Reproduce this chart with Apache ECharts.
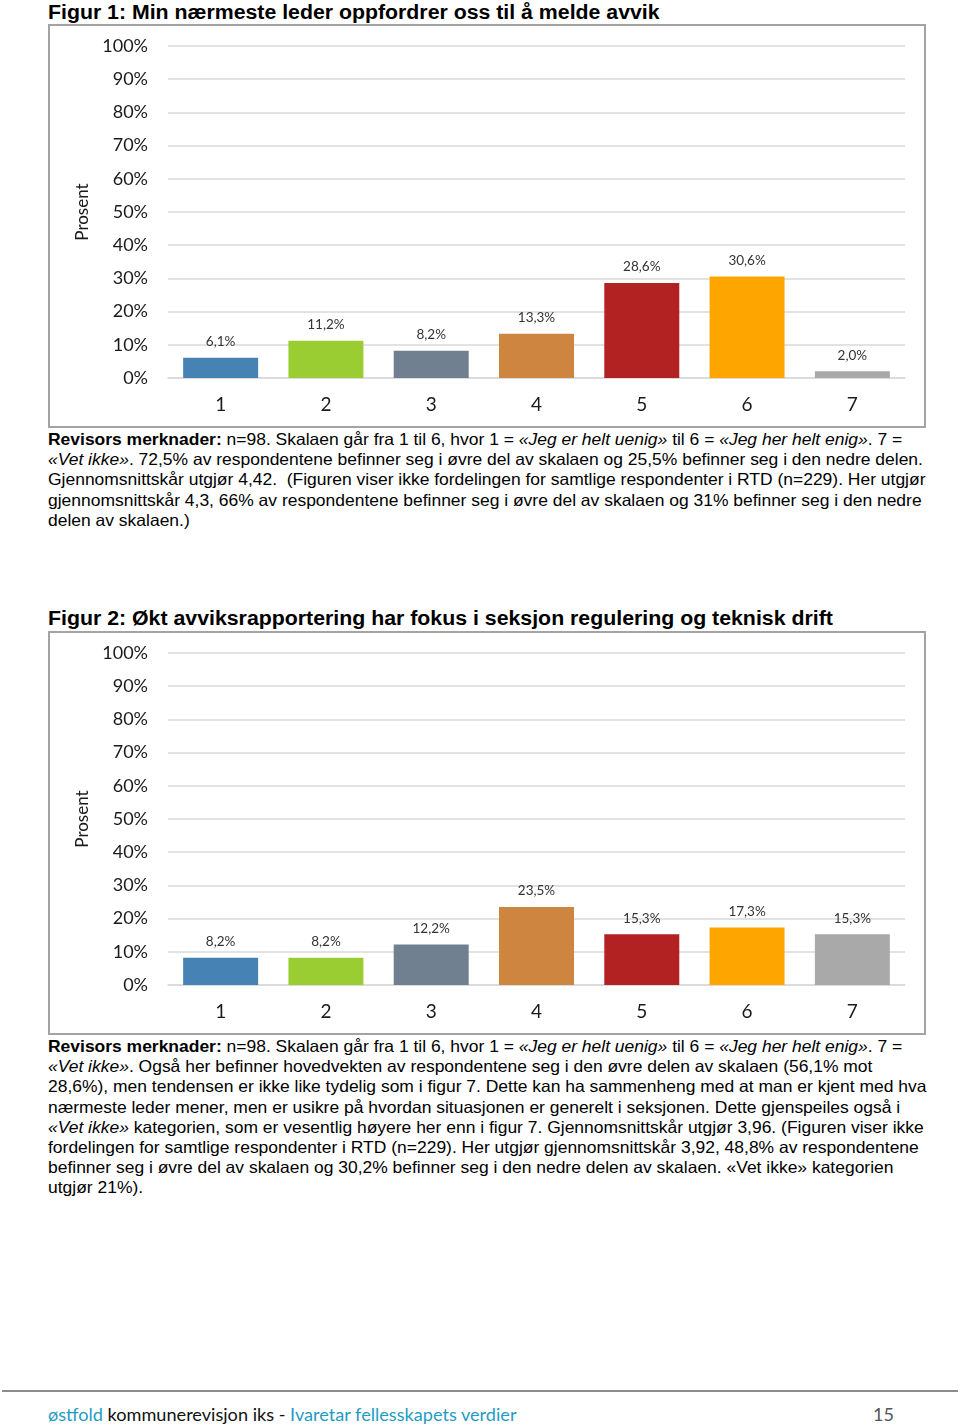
<!DOCTYPE html>
<html><head><meta charset="utf-8">
<script src="https://cdn.jsdelivr.net/npm/echarts@6/dist/echarts.min.js"></script>
<style>
html,body{margin:0;padding:0;background:#fff;}
body{width:960px;height:1426px;position:relative;overflow:hidden;font-family:"Liberation Sans",Arial,sans-serif;color:#000;}
.title{position:absolute;left:48px;font-weight:bold;font-size:20px;line-height:22px;white-space:nowrap;transform-origin:0 50%;}
.box{position:absolute;left:48px;width:878px;height:404px;box-sizing:border-box;border:2px solid #a3a3a3;}
.chart{width:874px;height:400px;}
.para{position:absolute;left:48px;font-size:16.5px;line-height:20.2px;white-space:nowrap;transform-origin:0 0;}
.para div{white-space:nowrap;}
.footline{position:absolute;left:2px;top:1390px;width:956px;height:2px;background:#8c8c8c;}
.foot{position:absolute;left:48px;top:1403px;font-family:Lato,"Open Sans",sans-serif;font-size:18px;line-height:22px;white-space:nowrap;color:#111;transform-origin:0 50%;}
.teal{color:#1f9cc4;}
.pnum{position:absolute;left:873px;top:1403px;font-family:Lato,"Open Sans",sans-serif;font-size:18px;line-height:22px;color:#555;}
</style></head>
<body>
<div class="title" id="t1" style="top:1px">Figur 1: Min nærmeste leder oppfordrer oss til å melde avvik</div>
<div class="box" style="top:24px"><div class="chart" id="c1"></div></div>
<div class="para" id="p1" style="top:429px">
<div id="p1l1"><b>Revisors merknader:</b> n=98. Skalaen går fra 1 til 6, hvor 1 = <i>«Jeg er helt uenig»</i> til 6 = <i>«Jeg her helt enig»</i>. 7 =</div>
<div><i>«Vet ikke»</i>. 72,5% av respondentene befinner seg i øvre del av skalaen og 25,5% befinner seg i den nedre delen.</div>
<div>Gjennomsnittskår utgjør 4,42.&nbsp; (Figuren viser ikke fordelingen for samtlige respondenter i RTD (n=229). Her utgjør</div>
<div>gjennomsnittskår 4,3, 66% av respondentene befinner seg i øvre del av skalaen og 31% befinner seg i den nedre</div>
<div>delen av skalaen.)</div>
</div>
<div class="title" id="t2" style="top:607px">Figur 2: Økt avviksrapportering har fokus i seksjon regulering og teknisk drift</div>
<div class="box" style="top:631px"><div class="chart" id="c2"></div></div>
<div class="para" id="p2" style="top:1036px">
<div id="p2l1"><b>Revisors merknader:</b> n=98. Skalaen går fra 1 til 6, hvor 1 = <i>«Jeg er helt uenig»</i> til 6 = <i>«Jeg her helt enig»</i>. 7 =</div>
<div><i>«Vet ikke»</i>. Også her befinner hovedvekten av respondentene seg i den øvre delen av skalaen (56,1% mot</div>
<div>28,6%), men tendensen er ikke like tydelig som i figur 7. Dette kan ha sammenheng med at man er kjent med hva</div>
<div>nærmeste leder mener, men er usikre på hvordan situasjonen er generelt i seksjonen. Dette gjenspeiles også i</div>
<div><i>«Vet ikke»</i> kategorien, som er vesentlig høyere her enn i figur 7. Gjennomsnittskår utgjør 3,96. (Figuren viser ikke</div>
<div>fordelingen for samtlige respondenter i RTD (n=229). Her utgjør gjennomsnittskår 3,92, 48,8% av respondentene</div>
<div>befinner seg i øvre del av skalaen og 30,2% befinner seg i den nedre delen av skalaen. «Vet ikke» kategorien</div>
<div>utgjør 21%).</div>
</div>
<div class="footline"></div>
<div class="foot" id="ft"><span class="teal">østfold</span> kommunerevisjon iks - <span class="teal">Ivaretar fellesskapets verdier</span></div>
<div class="pnum">15</div>
<script>
const categories = ['1','2','3','4','5','6','7'];
const fig1Values = [6.1, 11.2, 8.2, 13.3, 28.6, 30.6, 2.0];
const fig2Values = [8.2, 8.2, 12.2, 23.5, 15.3, 17.3, 15.3];
const barColors = ['#4682B4','#9ACD32','#708090','#CD853F','#B22222','#FFA500','#A9A9A9'];
const yTicks = {min:0, max:100, interval:10};

const tf = (id, target) => {
  const el = document.getElementById(id);
  el.style.display='inline-block';
  const k = target / el.scrollWidth;
  el.style.display='';
  return k;
};
(function(){
  const t1 = document.getElementById('t1');
  t1.style.transform = 'scaleX(' + (612 / t1.scrollWidth) + ')';
  const t2 = document.getElementById('t2');
  t2.style.transform = 'scaleX(' + (785 / t2.scrollWidth) + ')';
  const k1 = tf('p1l1', 854);
  document.getElementById('p1').style.transform = 'scaleX(' + k1 + ')';
  const k2 = tf('p2l1', 854);
  document.getElementById('p2').style.transform = 'scaleX(' + k2 + ')';
  const ft = document.getElementById('ft');
  ft.style.transform = 'scaleX(' + (469 / ft.scrollWidth) + ')';
})();

function makeOption(values){
  return {
    animation:false,
    grid:{left:118,right:19,top:20,bottom:48},
    xAxis:{
      type:'category', data:categories,
      axisLine:{show:true,lineStyle:{color:'#d9d9d9',width:1.5}},
      axisTick:{show:false},
      axisLabel:{fontSize:19,color:'#1a1a1a',margin:17,fontFamily:'Lato'}
    },
    yAxis:{
      type:'value', min:yTicks.min, max:yTicks.max, interval:yTicks.interval,
      name:'Prosent', nameLocation:'middle', nameGap:73,
      nameTextStyle:{fontSize:17,color:'#1a1a1a',fontFamily:'Lato'},
      axisLine:{show:false}, axisTick:{show:false},
      axisLabel:{formatter:'{value}%',fontSize:18,color:'#1a1a1a',margin:20,fontFamily:'Lato'},
      splitLine:{lineStyle:{color:'#d9d9d9',width:1.5}}
    },
    series:[{
      type:'bar',
      data: values.map((v,i)=>({value:v,itemStyle:{color:barColors[i]}})),
      barWidth:75,
      label:{show:true,position:'top',distance:9,fontSize:13.5,color:'#333',fontFamily:'Lato',
        formatter:p=>p.value.toFixed(1).replace('.',',')+'%'}
    }]
  };
}
echarts.init(document.getElementById('c1'),null,{renderer:'canvas'}).setOption(makeOption(fig1Values));
echarts.init(document.getElementById('c2'),null,{renderer:'canvas'}).setOption(makeOption(fig2Values));
</script>
</body></html>
